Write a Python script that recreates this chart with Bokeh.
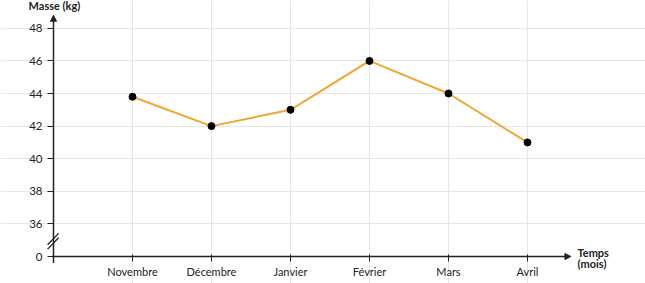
from bokeh.plotting import figure
from bokeh.models import FixedTicker, Arrow, NormalHead, Label, ColumnDataSource
from bokeh.embed import file_html
from bokeh.resources import INLINE

months = ["Novembre", "Décembre", "Janvier", "Février", "Mars", "Avril"]
masses = [43.8, 42, 43, 46, 44, 41]
y_ticks = [36, 38, 40, 42, 44, 46, 48]
BREAK = 34  # plotted position of the "0" tick (axis break)

xs = list(range(1, len(months) + 1))
src = ColumnDataSource(dict(x=xs, y=masses, m=months))

FONT = "Lato"
TXT = "#222222"

p = figure(width=645, height=283, output_backend="svg", toolbar_location=None,
           x_range=(-0.671, 7.494), y_range=(32.344, 49.706),
           min_border=0, background_fill_color="white",
           border_fill_color="white", outline_line_color=None)

# axes drawn inside the frame at fixed locations
p.xaxis.fixed_location = BREAK
p.yaxis.fixed_location = 0
p.xaxis.ticker = FixedTicker(ticks=xs)
p.xaxis.major_label_overrides = {i: m for i, m in zip(xs, months)}
p.yaxis.ticker = FixedTicker(ticks=[BREAK] + y_ticks)
p.yaxis.major_label_overrides = {BREAK: "0"}
for ax in (p.xaxis[0], p.yaxis[0]):
    ax.axis_line_color = None
    ax.major_tick_line_color = TXT
    ax.major_tick_line_width = 1
    ax.minor_tick_line_color = None
    ax.major_label_text_font = FONT
    ax.major_label_text_font_size = "11px"
    ax.major_label_text_color = TXT
p.yaxis.major_label_text_font_size = "11.5px"
p.xaxis.major_tick_in = 2
p.xaxis.major_tick_out = 5
p.xaxis.major_label_standoff = 3
p.yaxis.major_tick_in = 0
p.yaxis.major_tick_out = 6
p.yaxis.major_label_standoff = 5

# grid
p.xgrid.ticker = FixedTicker(ticks=xs)
p.ygrid.ticker = FixedTicker(ticks=y_ticks)
p.xgrid.bounds = (BREAK, 48.9)
p.ygrid.bounds = (0, 6.61)
p.grid.grid_line_color = "#e6e6e6"
p.grid.grid_line_width = 1

# axis lines with arrows
p.add_layout(Arrow(x_start=-0.02, y_start=BREAK, x_end=6.55, y_end=BREAK,
                   line_color=TXT, line_width=1.5,
                   end=NormalHead(size=6, fill_color=TXT, line_color=TXT)))
p.add_layout(Arrow(x_start=0, y_start=33.6, x_end=0, y_end=48.8,
                   line_color=TXT, line_width=1.5,
                   end=NormalHead(size=6, fill_color=TXT, line_color=TXT)))

# axis break marks
p.segment(x0=[-0.075, -0.075], y0=[34.45, 34.72], x1=[0.065, 0.065], y1=[35.15, 35.42],
          line_color=TXT, line_width=1.3)

# data
p.line("x", "y", source=src, line_color="#f2a531", line_width=2)
p.scatter("x", "y", source=src, size=7, fill_color="black", line_color="black")

# axis titles
p.add_layout(Label(x=-0.316, y=48.97, text="Masse (kg)", text_font=FONT,
                   text_font_size="11px", text_font_style="bold", text_color=TXT,
                   text_baseline="bottom", text_align="left"))
p.add_layout(Label(x=6.633, y=34.245, text="Temps", text_font=FONT,
                   text_font_size="11px", text_font_style="bold", text_color=TXT,
                   text_baseline="middle", text_align="left"))
p.add_layout(Label(x=6.633, y=33.57, text="(mois)", text_font=FONT,
                   text_font_size="11px", text_font_style="bold", text_color=TXT,
                   text_baseline="middle", text_align="left"))

open("out.html", "w").write(file_html(p, INLINE))
